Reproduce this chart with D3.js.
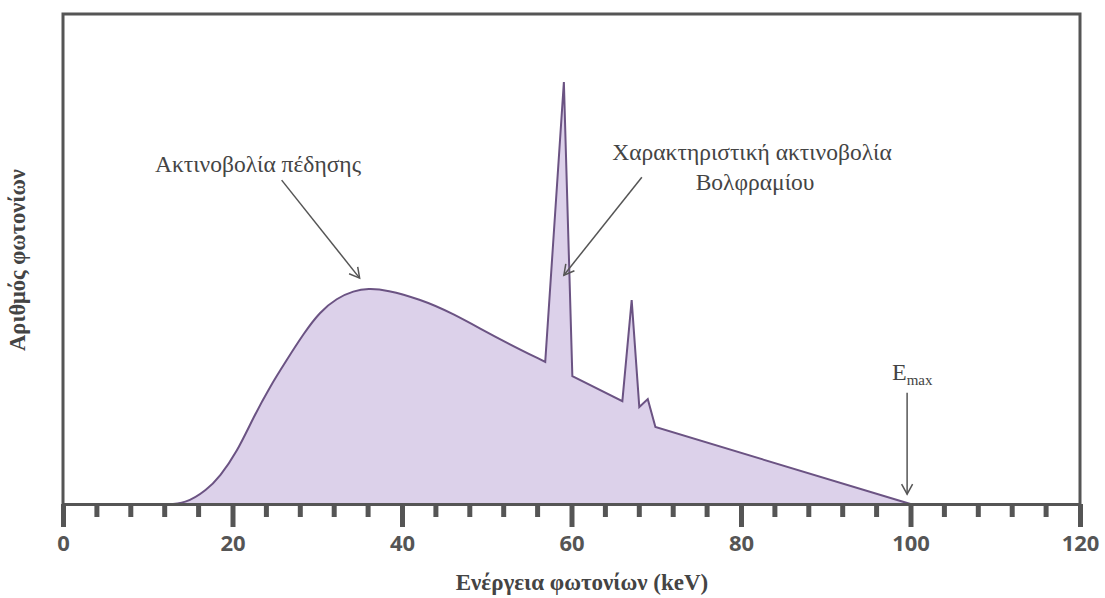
<!DOCTYPE html>
<html>
<head>
<meta charset="utf-8">
<script src="https://cdn.jsdelivr.net/npm/d3@7"></script>
<style>
  body { margin: 0; background: #fff; }
  svg { display: block; }
</style>
</head>
<body>
<div id="chart"></div>
<script>
(function(){

  // energy in keV, photon count in arbitrary units (frame top = 100)
  var bremsKeV   = [12, 14.4, 17.0, 18.5, 20.5, 22.5, 24.4, 26.4, 28.4, 30.3, 32.3, 34.3, 36.0, 38.2, 42.1, 45.7, 51.6, 56.9],
      bremsCount = [0,  0,    2.9,  5.6,  10.5, 17.8, 23.9, 29.4, 34.8, 39.2, 42.0, 43.5, 44.0, 43.7, 41.8, 39.2, 33.5, 29.0];

  var lineKeV   = [56.9, 59.1, 60.1, 66.0, 67.1, 68.0, 69.0, 69.9, 100],
      lineCount = [29.0, 86.1, 26.1, 21.0, 41.6, 19.8, 21.4, 15.7, 0];

  var majorTicks = [0, 20, 40, 60, 80, 100, 120],
      minorStep = 4;

  var width = 1105,
      height = 598;

  var x = d3.scaleLinear().domain([0, 120]).range([63, 1080]);
  var y = d3.scaleLinear().domain([0, 100]).range([504, 14]);

  var svg = d3.select('#chart').append('svg')
    .attr('width', width)
    .attr('height', height);

  var defs = svg.append('defs');
  defs.append('marker')
    .attr('id', 'arrow')
    .attr('viewBox', '-13 -8 15 16')
    .attr('markerWidth', 15)
    .attr('markerHeight', 16)
    .attr('markerUnits', 'userSpaceOnUse')
    .attr('orient', 'auto')
  .append('path')
    .attr('d', 'M-10,-5.5 L0,0 L-10,5.5')
    .attr('fill', 'none')
    .attr('stroke', '#555')
    .attr('stroke-width', 1.5);

  var brems = bremsKeV.map(function(d, i){ return [d, bremsCount[i]]; }),
      lines = lineKeV.map(function(d, i){ return [d, lineCount[i]]; });

  var smooth = d3.line()
    .x(function(d){ return x(d[0]); })
    .y(function(d){ return y(d[1]); })
    .curve(d3.curveBasis);

  var straight = d3.line()
    .x(function(d){ return x(d[0]); })
    .y(function(d){ return y(d[1]); });

  var outline = smooth(brems) + straight(lines.slice(1)).replace(/^M/, 'L');
  var filled = outline + 'L' + x(bremsKeV[0]) + ',' + y(0) + 'Z';

  svg.append('path')
    .attr('d', filled)
    .attr('fill', '#dcd1ea')
    .attr('stroke', 'none');

  svg.append('path')
    .attr('d', outline)
    .attr('fill', 'none')
    .attr('stroke', '#6b5383')
    .attr('stroke-width', 2)
    .attr('stroke-linejoin', 'miter');

  // frame
  var frameColor = '#555';
  svg.append('path')
    .attr('d', 'M' + x(0) + ',' + (y(0) + 23) + 'V' + y(100) + 'H' + x(120) + 'V' + (y(0) + 23))
    .attr('fill', 'none')
    .attr('stroke', frameColor)
    .attr('stroke-width', 3);

  // x axis
  var xAxis = d3.axisBottom(x)
    .tickValues(majorTicks)
    .tickSize(23)
    .tickSizeOuter(0)
    .tickPadding(8);

  var minor = d3.range(0, 121, minorStep).filter(function(d){ return d % 20 !== 0; });

  var gx = svg.append('g')
    .attr('transform', 'translate(0,' + y(0) + ')')
    .call(xAxis);

  gx.select('.domain').attr('stroke', frameColor).attr('stroke-width', 3);
  gx.selectAll('.tick line').attr('stroke', frameColor).attr('stroke-width', 5);
  gx.selectAll('.tick text')
    .attr('fill', '#555')
    .attr('font-family', '"Noto Sans", "Open Sans", sans-serif')
    .attr('font-weight', 'bold')
    .attr('font-size', 22);

  gx.selectAll('line.minor')
    .data(minor)
    .enter().append('line')
    .attr('class', 'minor')
    .attr('x1', function(d){ return x(d); })
    .attr('x2', function(d){ return x(d); })
    .attr('y1', 0)
    .attr('y2', 13)
    .attr('stroke', frameColor)
    .attr('stroke-width', 5);

  // axis titles
  var serif = '"Liberation Serif", "Times New Roman", serif';

  svg.append('text')
    .attr('x', 582)
    .attr('y', 590)
    .attr('text-anchor', 'middle')
    .attr('font-family', serif)
    .attr('font-weight', 'bold')
    .attr('font-size', 23)
    .attr('fill', '#444')
    .text('Ενέργεια φωτονίων (keV)');

  svg.append('text')
    .attr('transform', 'translate(25,260) rotate(-90)')
    .attr('text-anchor', 'middle')
    .attr('font-family', serif)
    .attr('font-weight', 'bold')
    .attr('font-size', 22.5)
    .attr('fill', '#444')
    .text('Αριθμός φωτονίων');

  // annotations
  var annoColor = '#444',
      annoSize = 23.5;

  svg.append('text')
    .attr('x', 258)
    .attr('y', 172)
    .attr('text-anchor', 'middle')
    .attr('font-family', serif)
    .attr('font-size', annoSize)
    .attr('fill', annoColor)
    .text('Ακτινοβολία πέδησης');

  svg.append('line')
    .attr('x1', x(25.8)).attr('y1', y(66.1))
    .attr('x2', x(35.0)).attr('y2', y(46.1))
    .attr('stroke', '#555')
    .attr('stroke-width', 1.5)
    .attr('marker-end', 'url(#arrow)');

  svg.append('text')
    .attr('x', 752)
    .attr('y', 160)
    .attr('text-anchor', 'middle')
    .attr('font-family', serif)
    .attr('font-size', annoSize)
    .attr('fill', annoColor)
    .text('Χαρακτηριστική ακτινοβολία');

  svg.append('text')
    .attr('x', 755)
    .attr('y', 190)
    .attr('text-anchor', 'middle')
    .attr('font-family', serif)
    .attr('font-size', annoSize)
    .attr('fill', annoColor)
    .text('Βολφραμίου');

  svg.append('line')
    .attr('x1', x(68.3)).attr('y1', y(66.7))
    .attr('x2', x(59.1)).attr('y2', y(46.7))
    .attr('stroke', '#555')
    .attr('stroke-width', 1.5)
    .attr('marker-end', 'url(#arrow)');

  var emax = svg.append('text')
    .attr('x', 892)
    .attr('y', 380)
    .attr('font-family', serif)
    .attr('font-size', 24)
    .attr('fill', annoColor);
  emax.append('tspan').text('E');
  emax.append('tspan').attr('font-size', 15).attr('dy', 5).text('max');

  svg.append('line')
    .attr('x1', x(99.6)).attr('y1', y(22.7))
    .attr('x2', x(99.6)).attr('y2', y(2.0))
    .attr('stroke', '#555')
    .attr('stroke-width', 1.5)
    .attr('marker-end', 'url(#arrow)');

})();
</script>
</body>
</html>
